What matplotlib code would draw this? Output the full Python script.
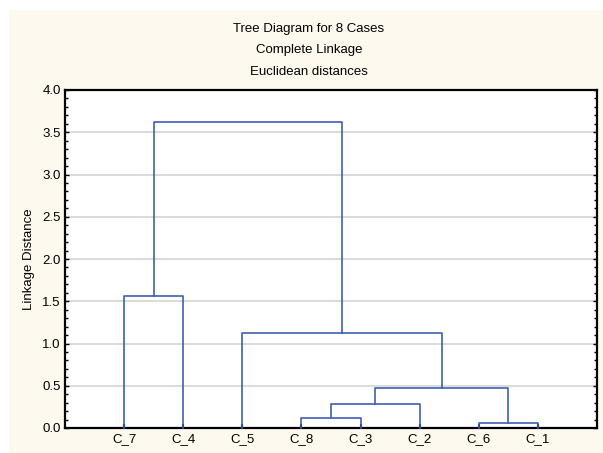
# Tree diagram (dendrograma) - complete linkage, 8 casos
import matplotlib.pyplot as plt
from matplotlib.patches import Rectangle
from matplotlib.ticker import MultipleLocator

# --- 1. Datos ---
casos = ['C_7', 'C_4', 'C_5', 'C_8', 'C_3', 'C_2', 'C_6', 'C_1']
# uniones estilo scipy: hojas 0..7 (en orden del eje), nuevos grupos 8, 9, ...
izq = [6, 3, 9, 10, 2, 0, 13]
der = [7, 4, 5, 8, 11, 1, 12]
distancia = [0.06, 0.12, 0.28, 0.47, 1.12, 1.56, 3.62]
ticks_y = [0.0, 0.5, 1.0, 1.5, 2.0, 2.5, 3.0, 3.5, 4.0]

color_linea = '#3d5fb3'
plt.rcParams['font.family'] = ['Liberation Sans', 'DejaVu Sans']
tam = 9.5

# --- 2. Figura ---
fig = plt.figure(figsize=(6.03, 4.53), dpi=100)
fig.patch.set_facecolor('white')
fondo = Rectangle((9 / 603, 0), 1 - 9 / 603, (453 - 10) / 453,
                  transform=fig.transFigure, facecolor='#fdf9ee',
                  edgecolor='none', zorder=-10)
fig.patches.append(fondo)

ax = fig.add_axes([65 / 603, 25 / 453, (597 - 65) / 603, (428 - 90) / 453])
ax.set_zorder(5)
ax.set_facecolor('white')

# posiciones x / alturas de cada nodo
pos_x = {i: i + 1 for i in range(len(casos))}
altura = {i: 0.0 for i in range(len(casos))}
for k, (a, b, d) in enumerate(zip(izq, der, distancia)):
    nodo = len(casos) + k
    xa, xb = pos_x[a], pos_x[b]
    ax.plot([xa, xa, xb, xb], [altura[a], d, d, altura[b]],
            color=color_linea, linewidth=1.2, zorder=3, clip_on=False)
    pos_x[nodo] = (xa + xb) / 2
    altura[nodo] = d

# --- 3. Formato ---
ax.set_xlim(0, len(casos) + 1)
ax.set_ylim(0, 4.0)
ax.set_xticks(range(1, len(casos) + 1))
ax.set_xticklabels(casos, fontsize=tam)
ax.set_yticks(ticks_y)
ax.set_yticklabels([f'{v:.1f}' for v in ticks_y], fontsize=tam)
ax.yaxis.set_minor_locator(MultipleLocator(0.1))
ax.tick_params(axis='y', which='major', direction='in', length=3, left=True, right=True,
               width=1, pad=3)
ax.tick_params(axis='y', which='minor', direction='in', length=2, left=True, right=True,
               width=1)
ax.tick_params(axis='x', which='major', direction='in', length=3, width=1.5, pad=4)
ax.grid(True, axis='y', which='major', color='#d4d4d4', linewidth=1.2, zorder=1)
ax.set_axisbelow(True)
for lado in ax.spines.values():
    lado.set_linewidth(1.6)
    lado.set_color('black')

ax.set_ylabel('Linkage Distance', fontsize=tam, labelpad=5)

centro_titulo = 309 / 603
fig.text(centro_titulo, 1 - 29 / 453, 'Tree Diagram for 8 Cases', ha='center', va='center', fontsize=tam)
fig.text(centro_titulo, 1 - 50 / 453, 'Complete Linkage', ha='center', va='center', fontsize=tam)
fig.text(centro_titulo, 1 - 72 / 453, 'Euclidean distances', ha='center', va='center', fontsize=tam)

fig.savefig('out.png', dpi=100)
